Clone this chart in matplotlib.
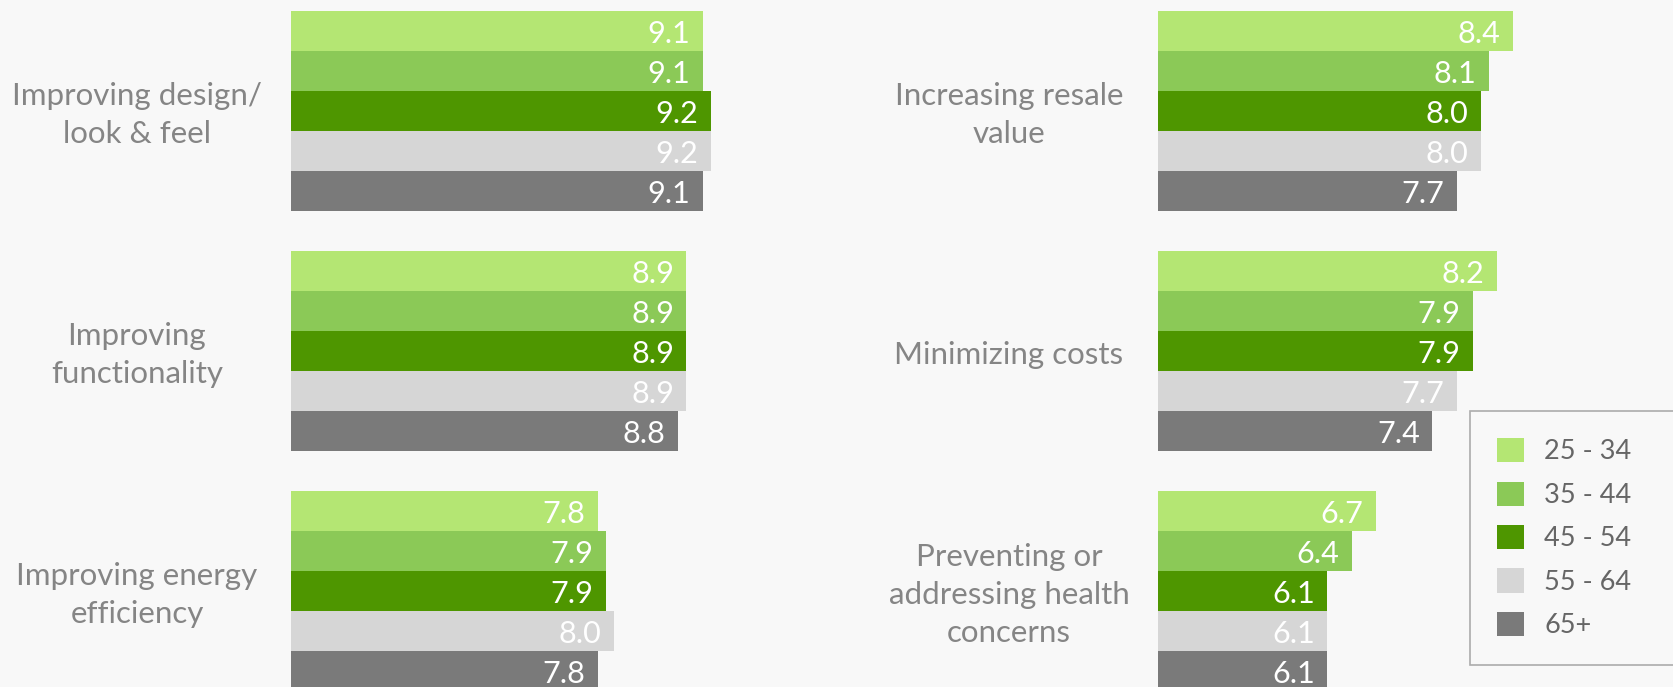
import matplotlib.pyplot as plt
from matplotlib.patches import Patch

# figure size in pixels (dpi 100)
W = 16.73
H = 6.87

plt.rcParams['font.family'] = ['Lato', 'DejaVu Sans']

age_groups = ['25 - 34', '35 - 44', '45 - 54', '55 - 64', '65+']
colors = ['#b4e673', '#8bc957', '#4e9600', '#d6d6d6', '#7a7a7a']

left_labels = ['Improving design/\nlook & feel', 'Improving\nfunctionality',
               'Improving energy\nefficiency']
left_values = [
    [9.1, 9.1, 9.2, 9.2, 9.1],
    [8.9, 8.9, 8.9, 8.9, 8.8],
    [7.8, 7.9, 7.9, 8.0, 7.8],
]

right_labels = ['Increasing resale\nvalue', 'Minimizing costs',
                'Preventing or\naddressing health\nconcerns']
right_values = [
    [8.4, 8.1, 8.0, 8.0, 7.7],
    [8.2, 7.9, 7.9, 7.7, 7.4],
    [6.7, 6.4, 6.1, 6.1, 6.1],
]

bg = '#f8f8f8'
label_col = '#858585'
px_unit = 80.7  # pixels per value unit
x0 = 4          # bars start here


def draw_panel(fig, left_px, labels, values, label_x_px):
    ax = fig.add_axes([left_px / 1673, 0, 6 * px_unit / 1673, 1])
    ax.set_facecolor('none')
    for g, vals in enumerate(values):
        for i, v in enumerate(vals):
            y = g * 6 + i + 0.5
            ax.barh(y, v, height=1.0, color=colors[i], linewidth=0)
            ax.annotate(f'{v:.1f}', (v, y), xytext=(-9, -2.5),
                        textcoords='offset points', ha='right', va='center',
                        color='white', fontsize=22)
        ax.text(x0 + (label_x_px - left_px) / px_unit, g * 6 + 2.6, labels[g],
                ha='center', va='center', fontsize=22.5, color=label_col,
                linespacing=1.42, clip_on=False)
    ax.set_xlim(x0, x0 + 6)
    ax.set_ylim(-0.275 + 687 / 40, -0.275)
    ax.axis('off')
    return ax


fig = plt.figure(figsize=(W, H), dpi=100)
fig.patch.set_facecolor(bg)

draw_panel(fig, 291, left_labels, left_values, 137)
draw_panel(fig, 1158, right_labels, right_values, 1009)

handles = [Patch(facecolor=c, edgecolor='none') for c in colors]
leg = fig.legend(handles, age_groups, loc='upper left',
                 bbox_to_anchor=(1470 / 1673, 1 - 411 / 687, 0.2, 0),
                 mode='expand', fontsize=19.5, frameon=True, fancybox=False,
                 handlelength=1.0, handleheight=1.0, labelspacing=0.63,
                 handletextpad=0.74, borderpad=1.0, borderaxespad=0,
                 labelcolor='#666666')
leg.get_frame().set_edgecolor('#999999')
leg.get_frame().set_facecolor(bg)
leg.get_frame().set_linewidth(1.2)

plt.savefig('out.png', dpi=100, facecolor=bg)
